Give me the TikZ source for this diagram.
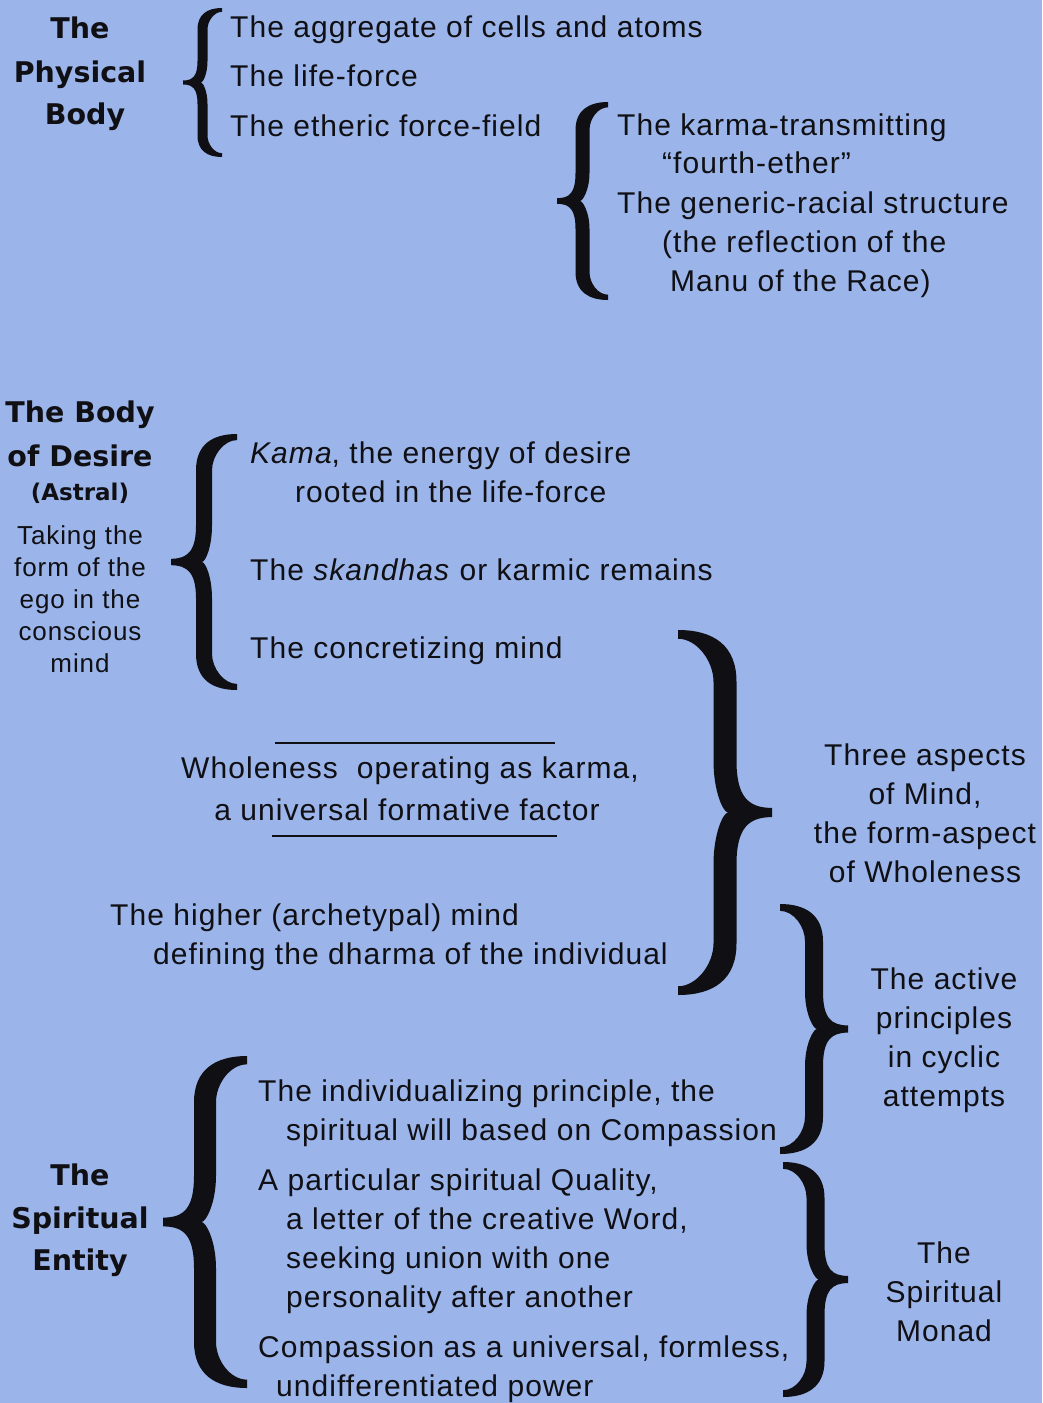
\documentclass[tikz,border=0pt]{standalone}
\usepackage{fontspec}
\setmainfont{Liberation Sans}[LetterSpace=3.5]
\newfontfamily\headfont{DejaVu Sans}
\definecolor{bgblue}{RGB}{155,180,233}
\definecolor{ink}{RGB}{15,15,20}
\tikzset{
  body/.style={font=\fontsize{30}{36}\selectfont, inner sep=0pt, text=ink},
  bl/.style={body, anchor=base west},
  bc/.style={body, anchor=base},
  head/.style={font=\headfont\bfseries\fontsize{28.5}{32}\selectfont, inner sep=0pt, anchor=base, text=ink},
  headsm/.style={font=\headfont\bfseries\fontsize{23}{28}\selectfont, inner sep=0pt, anchor=base, text=ink},
  small/.style={font=\fontsize{26}{30}\selectfont, inner sep=0pt, anchor=base, text=ink},
  rule/.style={draw=ink, line width=2pt}
}
% #1 tip x, #2 top y, #3 bottom y, #4 signed width (+ arms right), #5 thickness
\newcommand\brc[5]{%
  \pgfmathsetmacro\brH{#3-#2}%
  \pgfmathsetmacro\brL{0.5-#5/2/abs(#4)}%
  \pgfmathsetmacro\brR{0.5+#5/2/abs(#4)}%
  \pgfmathsetmacro\brE{#5*0.38/\brH}%
  \pgfmathsetmacro\brF{1-\brE}%
  \pgfmathsetmacro\brK{0.55*abs(#4)/\brH}%
  \pgfmathsetmacro\brT{0.2*#5/\brH}%
  \pgfmathsetmacro\brN{\brL+0.09}%
  \begin{scope}[shift={(#1,#2)}, xscale=#4, yscale=\brH]
  \fill[ink] (1,0) .. controls (0.62,0) and (\brL,{\brK*0.3}) .. (\brL,\brK)
    -- (\brL,{0.5-\brK}) .. controls (\brL,{0.5-\brK*0.3}) and (0.25,{0.5-\brT}) .. (0,{0.5-\brT})
    -- (0,{0.5+\brT}) .. controls (0.25,{0.5+\brT}) and (\brL,{0.5+\brK*0.3}) .. (\brL,{0.5+\brK})
    -- (\brL,{1-\brK}) .. controls (\brL,{1-\brK*0.3}) and (0.62,1) .. (1,1)
    -- (1,\brF) .. controls (0.8,\brF) and (\brR,{1-\brK*0.6}) .. (\brR,{1-\brK})
    -- (\brR,{0.5+\brK}) .. controls (\brR,{0.5+\brK*0.4}) and ({\brN+0.05},0.5) .. (\brN,0.5)
    .. controls ({\brN+0.05},0.5) and (\brR,{0.5-\brK*0.4}) .. (\brR,{0.5-\brK})
    -- (\brR,\brK) .. controls (\brR,{\brK*0.6}) and (0.8,\brE) .. (1,\brE) -- cycle;
  \end{scope}}
\begin{document}
\begin{tikzpicture}[x=1pt,y=-1pt]
\useasboundingbox (0,0) rectangle (1042,1403);
\fill[bgblue] (0,0) rectangle (1042,1403);

% ---- The Physical Body
\node[head] (pb1) at (80,38) {The};
\node[head] (pb2) at (80,82) {Physical};
\node[head] (pb3) at (85,124) {Body};
\brc{183}{8}{157}{39}{10}
\node[bl] (a1) at (230,37) {The aggregate of cells and atoms};
\node[bl] (a2) at (230,86) {The life-force};
\node[bl] (a3) at (230,136) {The etheric force-field};

\brc{557}{102}{300}{51}{14}
\node[bl] (b1) at (617,135) {The karma-transmitting};
\node[bl] (b2) at (662,173) {“fourth-ether”};
\node[bl] (b3) at (617,213) {The generic-racial structure};
\node[bl] (b4) at (662,252) {(the reflection of the};
\node[bl] (b5) at (670,291) {Manu of the Race)};

% ---- The Body of Desire
\node[head] (bd1) at (80,422) {The Body};
\node[head] (bd2) at (80,466) {of Desire};
\node[headsm] (bd3) at (80,500) {(Astral)};
\node[small] (t1) at (80,544) {Taking the};
\node[small] (t2) at (80,576) {form of the};
\node[small] (t3) at (80,608) {ego in the};
\node[small] (t4) at (80,640) {conscious};
\node[small] (t5) at (80,672) {mind};
\brc{171}{434}{690}{66}{16}
\node[bl] (c1) at (250,463) {\textit{Kama}, the energy of desire};
\node[bl] (c2) at (295,502) {rooted in the life-force};
\node[bl] (c3) at (250,580) {The \textit{skandhas} or karmic remains};
\node[bl] (c4) at (250,658) {The concretizing mind};

% ---- Wholeness
\draw[rule] (275,743) -- (555,743);
\node[bc] (w1) at (410,778) {Wholeness\ \ operating as karma,};
\node[bc] (w2) at (407,820) {a universal formative factor};
\draw[rule] (272,836) -- (557,836);
\node[bl] (h1) at (110,925) {The higher (archetypal) mind};
\node[bl] (h2) at (153,964) {defining the dharma of the individual};

\brc{772}{630}{995}{-94}{23}
\node[bc] (m1) at (925,765) {Three aspects};
\node[bc] (m2) at (925,804) {of Mind,};
\node[bc] (m3) at (925,843) {the form-aspect};
\node[bc] (m4) at (925,882) {of Wholeness};

\brc{848}{904}{1154}{-68}{18}
\node[bc] (r1) at (944,989) {The active};
\node[bc] (r2) at (944,1028) {principles};
\node[bc] (r3) at (944,1067) {in cyclic};
\node[bc] (r4) at (944,1106) {attempts};

\brc{848}{1162}{1397}{-65}{18}
\node[bc] (s1) at (944,1263) {The};
\node[bc] (s2) at (944,1302) {Spiritual};
\node[bc] (s3) at (944,1341) {Monad};

% ---- The Spiritual Entity
\node[head] (se1) at (80,1185) {The};
\node[head] (se2) at (80,1228) {Spiritual};
\node[head] (se3) at (80,1270) {Entity};
\brc{163}{1056}{1388}{84}{22}
\node[bl] (e1) at (258,1101) {The individualizing principle, the};
\node[bl] (e2) at (286,1140) {spiritual will based on Compassion};
\node[bl] (e3) at (258,1190) {A particular spiritual Quality,};
\node[bl] (e4) at (286,1229) {a letter of the creative Word,};
\node[bl] (e5) at (286,1268) {seeking union with one};
\node[bl] (e6) at (286,1307) {personality after another};
\node[bl] (e7) at (258,1357) {Compassion as a universal, formless,};
\node[bl] (e8) at (276,1396) {undifferentiated power};
\end{tikzpicture}
\end{document}
